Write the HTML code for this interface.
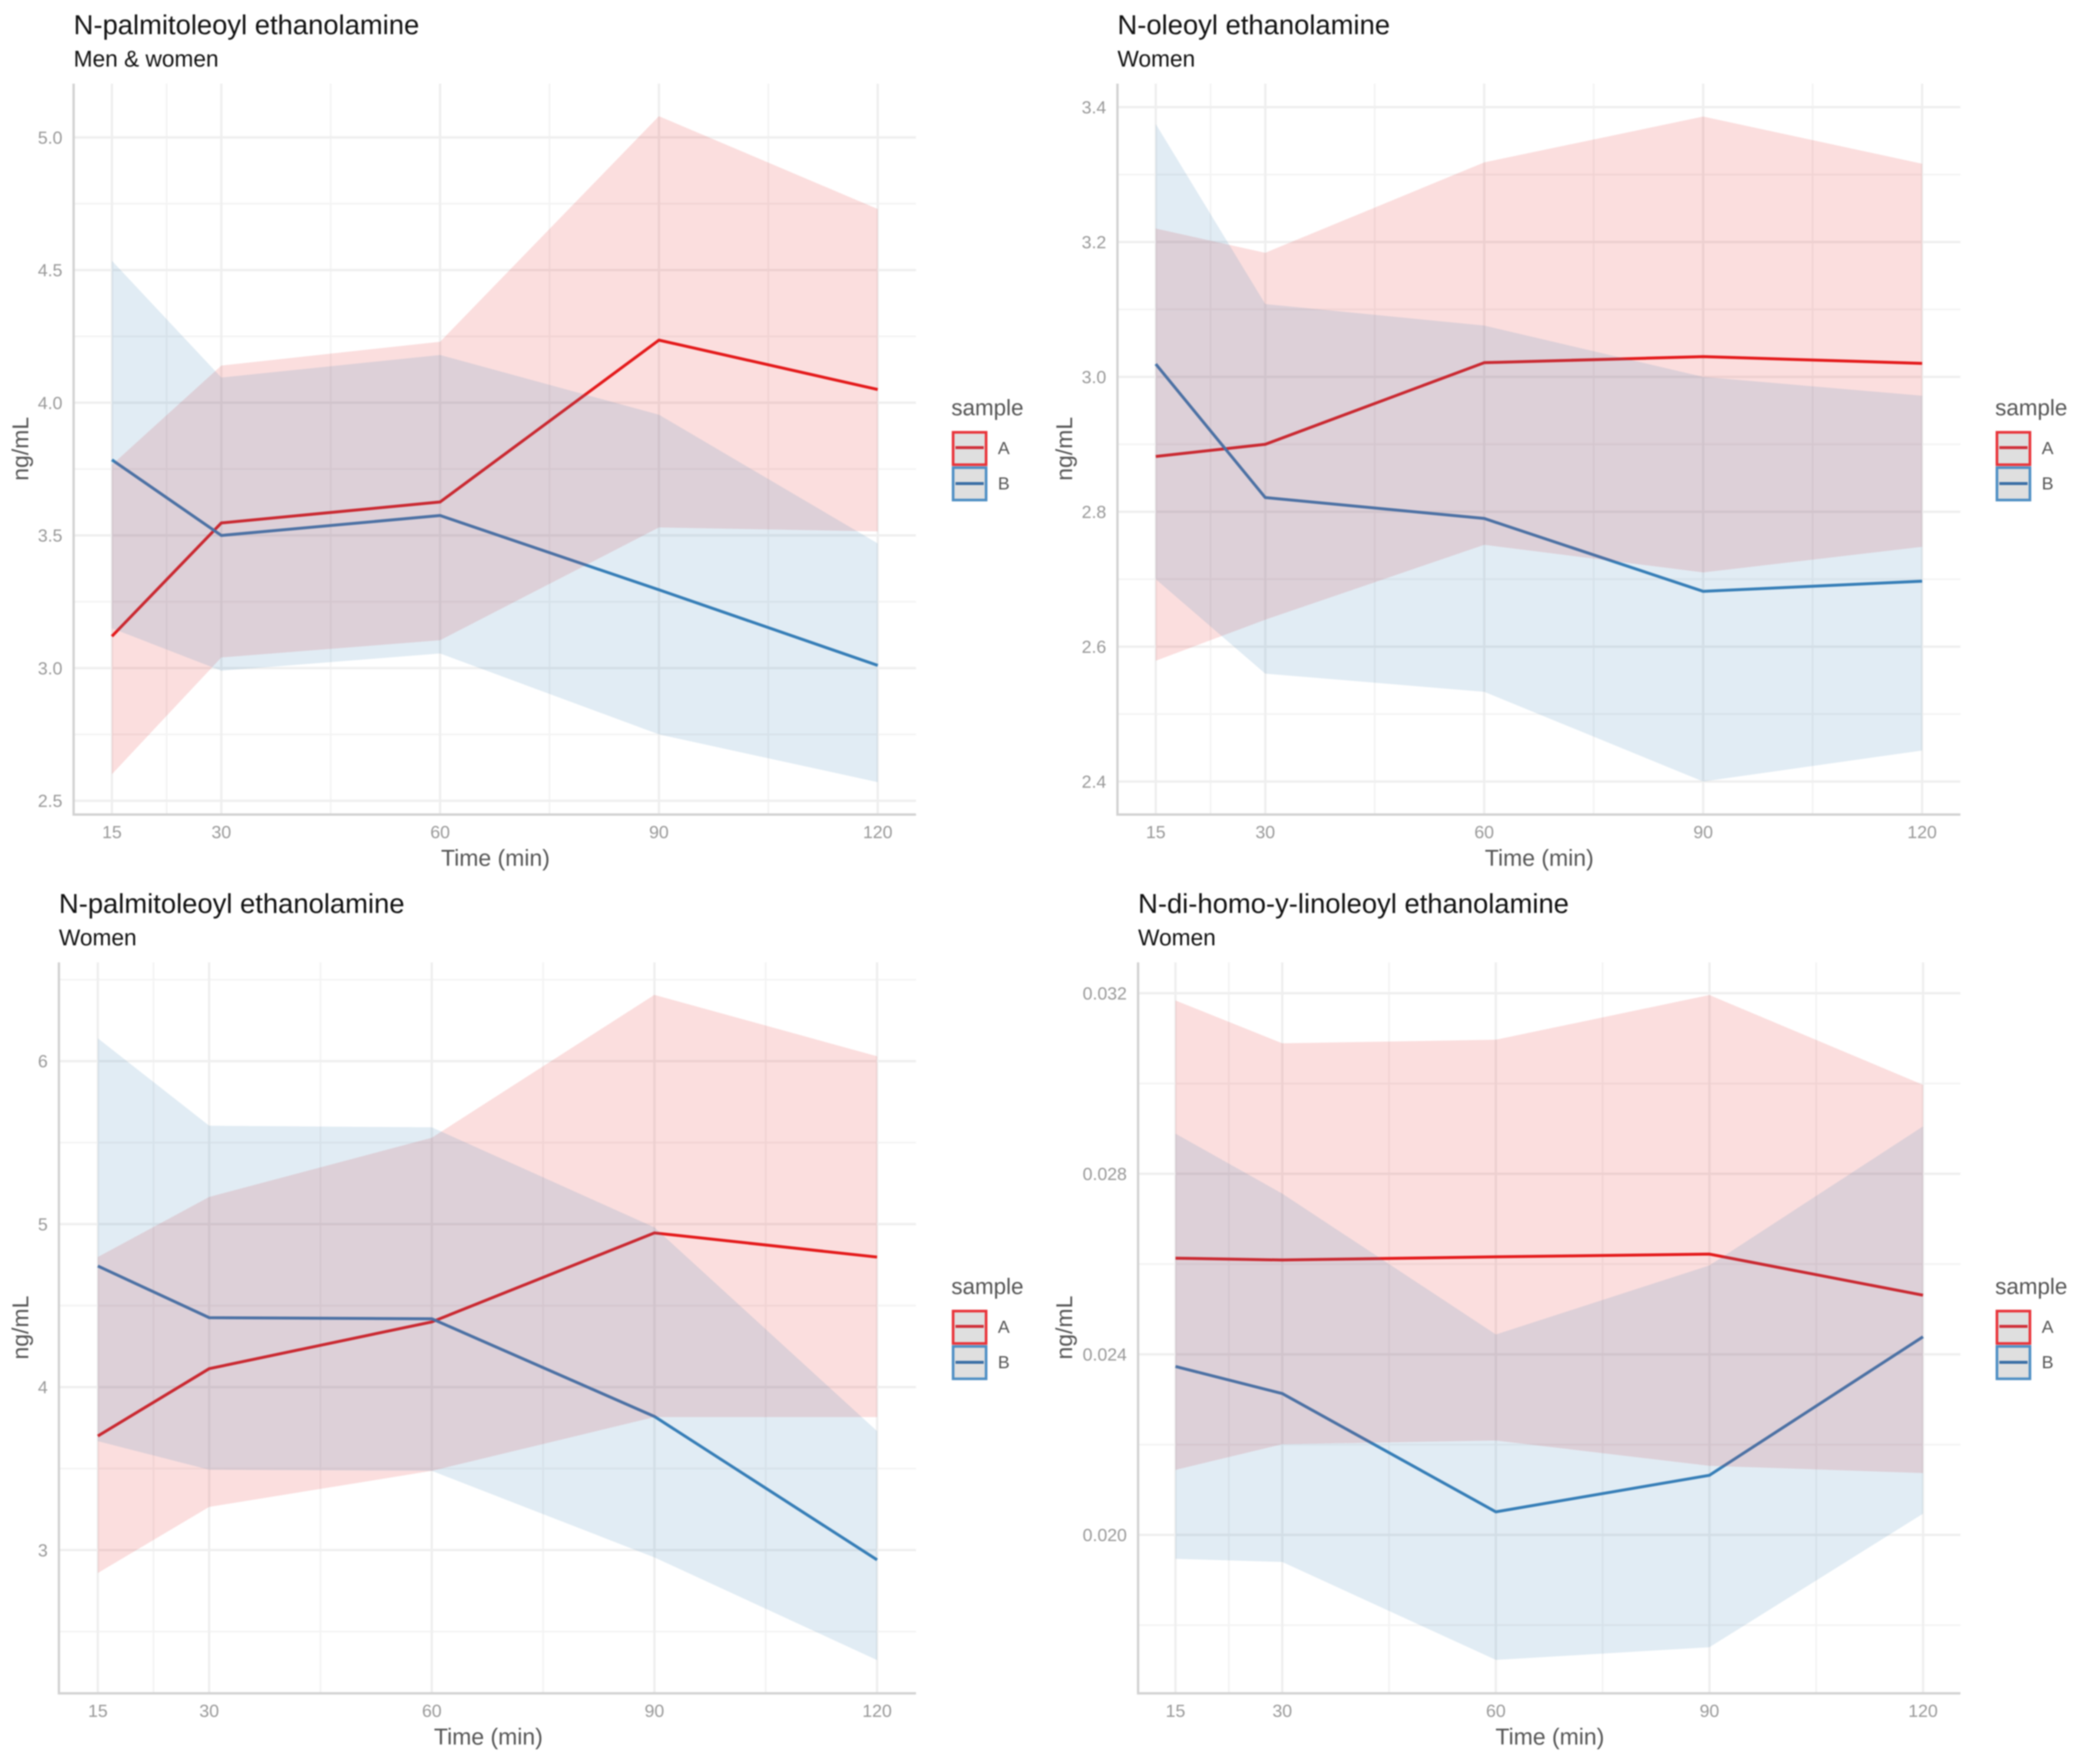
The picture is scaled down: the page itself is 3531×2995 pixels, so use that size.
<!DOCTYPE html>
<html lang="en">
<head>
<meta charset="utf-8">
<title>Ethanolamine time-course panels</title>
<style>
html,body{margin:0;padding:0;background:#fff;width:3531px;height:2995px;overflow:hidden}
svg{display:block;filter:blur(1.1px);font-family:"Liberation Sans",Arial,sans-serif}
.title{font-size:46.5px;fill:#111}
.subtitle{font-size:38.5px;fill:#111}
.axis-title{font-size:39px;fill:#555;text-anchor:middle}
.legend-title{font-size:38px;fill:#555}
.legend-label{font-size:30px;fill:#555}
.tick{font-size:30px;fill:#999}
</style>
</head>
<body>
<svg id="chart" xmlns="http://www.w3.org/2000/svg" width="3531" height="2995" viewBox="0 0 3531 2995">
  <rect width="3531" height="2995" fill="#ffffff"/>

  <g id="panel-1">
    <g class="plot"></g>
    <text class="title" x="125" y="58">N-palmitoleoyl ethanolamine</text>
    <text class="subtitle" x="125" y="113">Men &amp; women</text>
    <text class="axis-title" x="841" y="1470">Time (min)</text>
    <text class="axis-title" transform="translate(48 762) rotate(-90)">ng/mL</text>
    <g transform="translate(1615 0)">
      <text class="legend-title" x="0" y="705">sample</text>
      <rect x="3" y="734" width="56" height="55" fill="#dfdfdf" stroke="#e8343a" stroke-width="4.5"/>
      <line x1="7" x2="55" y1="760" y2="760" stroke="#d0303a" stroke-width="5"/>
      <text class="legend-label" x="79" y="771">A</text>
      <rect x="3" y="794" width="56" height="55" fill="#dfdfdf" stroke="#4f8fc4" stroke-width="4.5"/>
      <line x1="7" x2="55" y1="821" y2="821" stroke="#3a6ea5" stroke-width="5"/>
      <text class="legend-label" x="79" y="831">B</text>
    </g>
  </g>

  <g id="panel-2">
    <g class="plot"></g>
    <text class="title" x="1897" y="58">N-oleoyl ethanolamine</text>
    <text class="subtitle" x="1897" y="113">Women</text>
    <text class="axis-title" x="2613" y="1470">Time (min)</text>
    <text class="axis-title" transform="translate(1820 762) rotate(-90)">ng/mL</text>
    <g transform="translate(3387 0)">
      <text class="legend-title" x="0" y="705">sample</text>
      <rect x="3" y="734" width="56" height="55" fill="#dfdfdf" stroke="#e8343a" stroke-width="4.5"/>
      <line x1="7" x2="55" y1="760" y2="760" stroke="#d0303a" stroke-width="5"/>
      <text class="legend-label" x="79" y="771">A</text>
      <rect x="3" y="794" width="56" height="55" fill="#dfdfdf" stroke="#4f8fc4" stroke-width="4.5"/>
      <line x1="7" x2="55" y1="821" y2="821" stroke="#3a6ea5" stroke-width="5"/>
      <text class="legend-label" x="79" y="831">B</text>
    </g>
  </g>

  <g id="panel-3">
    <g class="plot"></g>
    <text class="title" x="100" y="1550">N-palmitoleoyl ethanolamine</text>
    <text class="subtitle" x="100" y="1605">Women</text>
    <text class="axis-title" x="829" y="2962">Time (min)</text>
    <text class="axis-title" transform="translate(48 2254) rotate(-90)">ng/mL</text>
    <g transform="translate(1615 1492)">
      <text class="legend-title" x="0" y="705">sample</text>
      <rect x="3" y="734" width="56" height="55" fill="#dfdfdf" stroke="#e8343a" stroke-width="4.5"/>
      <line x1="7" x2="55" y1="760" y2="760" stroke="#d0303a" stroke-width="5"/>
      <text class="legend-label" x="79" y="771">A</text>
      <rect x="3" y="794" width="56" height="55" fill="#dfdfdf" stroke="#4f8fc4" stroke-width="4.5"/>
      <line x1="7" x2="55" y1="821" y2="821" stroke="#3a6ea5" stroke-width="5"/>
      <text class="legend-label" x="79" y="831">B</text>
    </g>
  </g>

  <g id="panel-4">
    <g class="plot"></g>
    <text class="title" x="1932" y="1550">N-di-homo-y-linoleoyl ethanolamine</text>
    <text class="subtitle" x="1932" y="1605">Women</text>
    <text class="axis-title" x="2631" y="2962">Time (min)</text>
    <text class="axis-title" transform="translate(1820 2254) rotate(-90)">ng/mL</text>
    <g transform="translate(3387 1492)">
      <text class="legend-title" x="0" y="705">sample</text>
      <rect x="3" y="734" width="56" height="55" fill="#dfdfdf" stroke="#e8343a" stroke-width="4.5"/>
      <line x1="7" x2="55" y1="760" y2="760" stroke="#d0303a" stroke-width="5"/>
      <text class="legend-label" x="79" y="771">A</text>
      <rect x="3" y="794" width="56" height="55" fill="#dfdfdf" stroke="#4f8fc4" stroke-width="4.5"/>
      <line x1="7" x2="55" y1="821" y2="821" stroke="#3a6ea5" stroke-width="5"/>
      <text class="legend-label" x="79" y="831">B</text>
    </g>
  </g>
</svg>

<script>
// Shared x axis
const times = [15, 30, 60, 90, 120];
const xTickLabels = ['15', '30', '60', '90', '120'];
const xMinorBreaks = [22.5, 45, 75, 105];
const xDomain = [9.75, 125.25];

// Panel 1: N-palmitoleoyl ethanolamine, men & women
const p1AMean  = [3.12, 3.547, 3.626, 4.236, 4.05];
const p1AUpper = [3.766, 4.14, 4.23, 5.08, 4.73];
const p1ALower = [2.6, 3.04, 3.105, 3.53, 3.515];
const p1BMean  = [3.785, 3.5, 3.575, 3.295, 3.01];
const p1BUpper = [4.535, 4.095, 4.18, 3.955, 3.47];
const p1BLower = [3.15, 2.99, 3.055, 2.75, 2.57];
const p1YTicks = [2.5, 3, 3.5, 4, 4.5, 5];
const p1YLabels = ['2.5', '3.0', '3.5', '4.0', '4.5', '5.0'];
const p1YMinor = [2.75, 3.25, 3.75, 4.25, 4.75];
const p1YDomain = [2.448, 5.2026];

// Panel 2: N-oleoyl ethanolamine, women
const p2AMean  = [2.882, 2.9, 3.021, 3.03, 3.02];
const p2AUpper = [3.22, 3.184, 3.318, 3.386, 3.316];
const p2ALower = [2.579, 2.64, 2.751, 2.71, 2.748];
const p2BMean  = [3.019, 2.821, 2.79, 2.682, 2.697];
const p2BUpper = [3.375, 3.108, 3.076, 3.0, 2.972];
const p2BLower = [2.7, 2.56, 2.533, 2.4, 2.446];
const p2YTicks = [2.4, 2.6, 2.8, 3.0, 3.2, 3.4];
const p2YLabels = ['2.4', '2.6', '2.8', '3.0', '3.2', '3.4'];
const p2YMinor = [2.5, 2.7, 2.9, 3.1, 3.3];
const p2YDomain = [2.351, 3.4348];

// Panel 3: N-palmitoleoyl ethanolamine, women
const p3AMean  = [3.7, 4.113, 4.4, 4.946, 4.798];
const p3AUpper = [4.798, 5.167, 5.53, 6.407, 6.03];
const p3ALower = [2.859, 3.265, 3.486, 3.816, 3.816];
const p3BMean  = [4.743, 4.426, 4.419, 3.82, 2.94];
const p3BUpper = [6.14, 5.604, 5.594, 4.98, 3.73];
const p3BLower = [3.668, 3.493, 3.486, 2.955, 2.325];
const p3YTicks = [3, 4, 5, 6];
const p3YLabels = ['3', '4', '5', '6'];
const p3YMinor = [2.5, 3.5, 4.5, 5.5, 6.5];
const p3YDomain = [2.121, 6.606];

// Panel 4: N-di-homo-y-linoleoyl ethanolamine, women
const p4AMean  = [0.02613, 0.02609, 0.02616, 0.02622, 0.02531];
const p4AUpper = [0.03184, 0.03089, 0.03097, 0.03196, 0.02997];
const p4ALower = [0.02144, 0.02201, 0.02209, 0.02153, 0.02137];
const p4BMean  = [0.02373, 0.02313, 0.02051, 0.02132, 0.02439];
const p4BUpper = [0.02889, 0.02756, 0.02444, 0.02597, 0.02905];
const p4BLower = [0.01947, 0.0194, 0.01723, 0.01751, 0.02047];
const p4YTicks = [0.02, 0.024, 0.028, 0.032];
const p4YLabels = ['0.020', '0.024', '0.028', '0.032'];
const p4YMinor = [0.018, 0.022, 0.026, 0.03];
const p4YDomain = [0.01649, 0.032683];

const colorA = '#e41a1c';
const colorB = '#377eb8';
const SVG_NS = 'http://www.w3.org/2000/svg';

function make(parent, tag, attrs) {
  const el = document.createElementNS(SVG_NS, tag);
  for (const k in attrs) el.setAttribute(k, attrs[k]);
  parent.appendChild(el);
  return el;
}

function drawPanel(id, box, s) {
  const plot = document.querySelector('#' + id + ' .plot');
  const xScale = v => box.left + (v - xDomain[0]) / (xDomain[1] - xDomain[0]) * (box.right - box.left);
  const yScale = v => box.bottom - (v - s.yDomain[0]) / (s.yDomain[1] - s.yDomain[0]) * (box.bottom - box.top);

  s.yMinor.forEach(v => {
    const el = make(plot, 'line', {x1: box.left, x2: box.right, y1: yScale(v), y2: yScale(v), stroke: '#f4f4f4', 'stroke-width': 3});
    
    
  });
  xMinorBreaks.forEach(v => {
    const el = make(plot, 'line', {x1: xScale(v), x2: xScale(v), y1: box.top, y2: box.bottom, stroke: '#f4f4f4', 'stroke-width': 3});
    
    
  });
  s.yTicks.forEach((v, i) => {
    const grid = make(plot, 'line', {x1: box.left, x2: box.right, y1: yScale(v), y2: yScale(v), stroke: '#efefef', 'stroke-width': 4});
    
    
    const label = make(plot, 'text', {x: box.left - 19, y: yScale(v) + 10.5, 'text-anchor': 'end', class: 'tick'});
    label.textContent = s.yLabels[i];
    
    
  });
  times.forEach((v, i) => {
    const grid = make(plot, 'line', {x1: xScale(v), x2: xScale(v), y1: box.top, y2: box.bottom, stroke: '#efefef', 'stroke-width': 4});
    
    
    const label = make(plot, 'text', {x: xScale(v), y: box.bottom + 40, 'text-anchor': 'middle', class: 'tick'});
    label.textContent = xTickLabels[i];
    
    
  });

  const linePoints = arr => arr.map((v, i) => xScale(times[i]).toFixed(1) + ',' + yScale(v).toFixed(1)).join(' ');
  const ribbonPoints = (up, lo) => linePoints(up) + ' ' + lo.map((v, i) => [xScale(times[i]), yScale(v)]).reverse().map(p => p[0].toFixed(1) + ',' + p[1].toFixed(1)).join(' ');

  const lineA = make(plot, 'polyline', {points: linePoints(s.aMean), fill: 'none', stroke: colorA, 'stroke-width': 5, 'stroke-linejoin': 'round'});
  
  
  const lineB = make(plot, 'polyline', {points: linePoints(s.bMean), fill: 'none', stroke: colorB, 'stroke-width': 5, 'stroke-linejoin': 'round'});
  
  

  const ribbonA = make(plot, 'polygon', {points: ribbonPoints(s.aUpper, s.aLower), fill: colorA, 'fill-opacity': 0.145});
  
  
  const ribbonB = make(plot, 'polygon', {points: ribbonPoints(s.bUpper, s.bLower), fill: colorB, 'fill-opacity': 0.15});
  
  

  const xAxis = make(plot, 'line', {x1: box.left - 2, x2: box.right, y1: box.bottom, y2: box.bottom, stroke: '#d2d2d2', 'stroke-width': 4});
  
  
  const yAxis = make(plot, 'line', {x1: box.left, x2: box.left, y1: box.top, y2: box.bottom, stroke: '#d2d2d2', 'stroke-width': 4});
  
  
}

drawPanel('panel-1', {left: 125, right: 1555, top: 142, bottom: 1383},
  {aMean: p1AMean, aUpper: p1AUpper, aLower: p1ALower, bMean: p1BMean, bUpper: p1BUpper, bLower: p1BLower,
   yTicks: p1YTicks, yLabels: p1YLabels, yMinor: p1YMinor, yDomain: p1YDomain});
drawPanel('panel-2', {left: 1897, right: 3328, top: 142, bottom: 1383},
  {aMean: p2AMean, aUpper: p2AUpper, aLower: p2ALower, bMean: p2BMean, bUpper: p2BUpper, bLower: p2BLower,
   yTicks: p2YTicks, yLabels: p2YLabels, yMinor: p2YMinor, yDomain: p2YDomain});
drawPanel('panel-3', {left: 100, right: 1555, top: 1634, bottom: 2875},
  {aMean: p3AMean, aUpper: p3AUpper, aLower: p3ALower, bMean: p3BMean, bUpper: p3BUpper, bLower: p3BLower,
   yTicks: p3YTicks, yLabels: p3YLabels, yMinor: p3YMinor, yDomain: p3YDomain});
drawPanel('panel-4', {left: 1932, right: 3328, top: 1634, bottom: 2875},
  {aMean: p4AMean, aUpper: p4AUpper, aLower: p4ALower, bMean: p4BMean, bUpper: p4BUpper, bLower: p4BLower,
   yTicks: p4YTicks, yLabels: p4YLabels, yMinor: p4YMinor, yDomain: p4YDomain});
</script>
</body>
</html>
